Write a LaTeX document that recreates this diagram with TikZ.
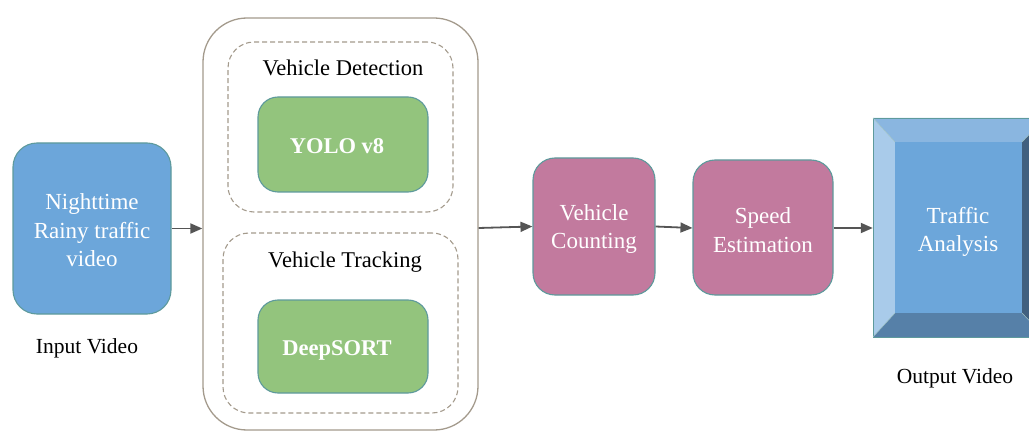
\documentclass[tikz,border=0pt]{standalone}
\usepackage{fontspec}
\setmainfont{Liberation Serif}
\usetikzlibrary{arrows.meta}
\definecolor{blueF}{HTML}{6CA6DA}
\definecolor{greenF}{HTML}{93C47D}
\definecolor{pinkF}{HTML}{C27A9E}
\definecolor{edgeC}{HTML}{5E9A9C}
\definecolor{contC}{HTML}{A39A8C}
\definecolor{arrC}{HTML}{555555}
\definecolor{bevT}{HTML}{8AB6E0}
\definecolor{bevL}{HTML}{A9CBEA}
\definecolor{bevB}{HTML}{5680A8}
\definecolor{bevR}{HTML}{41607F}
\tikzset{
  box/.style={draw=edgeC, line width=1.1pt, rounded corners=24pt, text=white, align=center, font=\fontsize{23}{28.5}\selectfont, inner sep=0pt},
  lbl/.style={font=\fontsize{21.5}{24}\selectfont, text=black},
  arr/.style={draw=arrC, line width=1.8pt, -{Triangle[length=12pt,width=10pt]}},
  dbox/.style={draw=contC, line width=1.1pt, dash pattern=on 5pt off 3pt, rounded corners=26pt},
  wtxt/.style={text=white, align=center, font=\fontsize{23}{28.5}\selectfont}
}
\begin{document}
\begin{tikzpicture}[x=1pt,y=-1pt]
\useasboundingbox (0,0) rectangle (1029,433);
\clip (0,0) rectangle (1029,433);
% input
\node[box, fill=blueF, minimum width=158pt, minimum height=171pt] (in) at (92,228.5) {};
\node[wtxt] (intxt) at (92,230.5) {Nighttime\\Rainy traffic\\video};
\node[lbl] (inl) at (87,348) {Input Video};
% container
\node[draw=contC, line width=1.3pt, rounded corners=44pt, minimum width=275pt, minimum height=412pt, inner sep=0pt] (cont) at (340.5,224) {};
\node[dbox, minimum width=225pt, minimum height=170pt, inner sep=0pt] (d1) at (340.5,127) {};
\node[dbox, minimum width=235pt, minimum height=180pt, inner sep=0pt] (d2) at (340.5,323) {};
\node[lbl, font=\fontsize{22.5}{24}\selectfont] (dl1) at (343,68) {Vehicle Detection};
\node[lbl, font=\fontsize{22.5}{24}\selectfont] (dl2) at (345,262) {Vehicle Tracking};
\node[box, fill=greenF, rounded corners=20pt, minimum width=170pt, minimum height=95pt] (yolo) at (343,144.5) {};
\node[text=white, font=\fontsize{22.5}{24}\selectfont\bfseries] (yolot) at (337,146) {YOLO v8};
\node[box, fill=greenF, rounded corners=20pt, minimum width=170pt, minimum height=93pt] (ds) at (343,346.5) {};
\node[text=white, font=\fontsize{22.5}{24}\selectfont\bfseries] (dst) at (337,350) {DeepSORT};
% counting & speed
\node[box, fill=pinkF, rounded corners=22pt, minimum width=122pt, minimum height=137pt] (vc) at (594,226.5) {};
\node[wtxt] (vct) at (594,229) {Vehicle\\Counting};
\node[box, fill=pinkF, rounded corners=22pt, minimum width=140pt, minimum height=135pt] (se) at (763,227.5) {};
\node[wtxt] (set) at (763,230) {Speed\\Estimation};
% traffic analysis bevel box
\coordinate (o1) at (873,118);
\coordinate (o2) at (1045,118);
\coordinate (o3) at (1045,337);
\coordinate (o4) at (873,337);
\coordinate (i1) at (895,142);
\coordinate (i2) at (1022,142);
\coordinate (i3) at (1022,313);
\coordinate (i4) at (895,313);
\fill[bevT] (o1) -- (o2) -- (i2) -- (i1) -- cycle;
\fill[bevL] (o1) -- (i1) -- (i4) -- (o4) -- cycle;
\fill[bevB] (o4) -- (i4) -- (i3) -- (o3) -- cycle;
\fill[bevR] (o2) -- (i2) -- (i3) -- (o3) -- cycle;
\fill[blueF] (i1) rectangle (i3);
\draw[edgeC, line width=0.8pt] (o1) rectangle (o3);
\draw[edgeC!60, line width=0.5pt] (o1) -- (i1) (o2) -- (i2) (o3) -- (i3) (o4) -- (i4);
\node[inner sep=0pt, minimum width=172pt, minimum height=219pt] (ta) at (959,227.5) {};
\node[wtxt] (tat) at (958,232) {Traffic\\Analysis};
\node[lbl] (outl) at (955,378) {Output Video};
% arrows
\draw[arr] (in.east) -- (cont.west |- in.east);
\draw[arr] (cont.east |- 0,228) -- (vc.west);
\draw[arr] (vc.east) -- (se.west |- 0,228);
\draw[arr] (se.east |- 0,228) -- (ta.west |- 0,228);
\end{tikzpicture}
\end{document}
